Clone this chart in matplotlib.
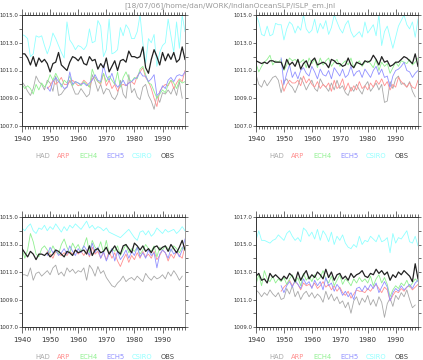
import matplotlib
matplotlib.use('Agg')
import matplotlib.pyplot as plt
import numpy as np
from matplotlib.ticker import MultipleLocator, FormatStrFormatter

title = '[18/07/06]/home/dan/WORK/IndianOceanSLP/ISLP_em.jnl'
years = np.arange(1940, 1999)
names = ['HAD', 'ARP', 'ECH4', 'ECH5', 'CSIRO', 'OBS']
colors = ['#a8a8a8', '#ff9090', '#90f090', '#9090ff', '#90ffff', '#222222']
# ARP and ECH5 start in 1949, HAD ends in 1997

# ---- panel 1 (top left)
had1 = [1010.2, 1009.9, 1009.5, 1009.2, 1009.7, 1010.6, 1010.2, 1010.0, 1009.6, 1010.3,
        1010.1, 1009.5, 1010.6, 1009.2, 1009.3, 1009.6, 1009.8, 1010.3, 1009.8, 1009.3,
        1009.3, 1009.7, 1009.4, 1009.1, 1009.3, 1010.7, 1010.2, 1009.5, 1010.0, 1009.3,
        1009.7, 1009.6, 1009.1, 1008.9, 1009.3, 1010.3, 1009.3, 1009.0, 1010.7, 1009.4,
        1009.7, 1009.1, 1008.9, 1009.8, 1010.0, 1009.2, 1008.8, 1008.2, 1009.2, 1008.7,
        1009.4, 1009.3, 1009.6, 1009.3, 1009.8, 1009.2, 1010.2, 1009.0]
arp1 = [1009.7, 1009.9, 1010.3, 1010.0, 1010.2, 1010.5, 1010.0, 1010.0, 1010.2, 1010.3,
        1010.1, 1009.9, 1010.0, 1010.3, 1010.1, 1009.8, 1010.4, 1010.5, 1010.2, 1010.0,
        1010.8, 1009.9, 1010.3, 1009.7, 1010.0, 1009.5, 1009.9, 1010.0, 1009.9, 1010.1,
        1010.2, 1010.0, 1010.6, 1010.9, 1011.2, 1010.5, 1010.2, 1009.7, 1009.0, 1008.4,
        1009.5, 1009.8, 1010.0, 1009.9, 1010.3, 1009.7, 1010.1, 1010.4, 1010.2, 1011.0]
ech41 = [1010.0, 1009.7, 1009.9, 1009.7, 1009.3, 1010.0, 1009.6, 1010.1, 1009.8, 1010.1,
         1010.7, 1010.3, 1010.8, 1010.4, 1009.8, 1010.3, 1010.1, 1010.6, 1009.9, 1010.2,
         1010.1, 1009.9, 1010.2, 1010.0, 1009.8, 1011.1, 1010.5, 1010.2, 1010.1, 1010.8,
         1010.2, 1010.6, 1010.3, 1010.0, 1010.9, 1009.8, 1010.5, 1010.9, 1010.4, 1010.2,
         1010.5, 1010.4, 1011.1, 1011.3, 1010.7, 1010.1, 1010.0, 1009.5, 1009.0, 1009.3,
         1009.6, 1009.4, 1010.0, 1010.3, 1010.1, 1009.7, 1010.3, 1010.1, 1010.2]
ech51 = [1009.8, 1009.5, 1010.2, 1010.5, 1010.2, 1010.0, 1009.7, 1009.8, 1010.9, 1010.0,
         1010.2, 1010.1, 1010.0, 1010.1, 1009.9, 1010.1, 1010.3, 1010.7, 1010.3, 1010.2,
         1011.4, 1010.6, 1010.3, 1010.8, 1010.1, 1009.8, 1010.0, 1010.3, 1009.9, 1010.1,
         1010.2, 1010.4, 1010.5, 1010.9, 1010.6, 1010.6, 1010.2, 1010.4, 1010.7, 1009.2,
         1009.4, 1009.9, 1009.7, 1010.3, 1010.5, 1010.2, 1010.6, 1010.7, 1010.6, 1010.9]
csiro1 = [1013.6, 1013.5, 1013.3, 1012.0, 1012.2, 1013.5, 1013.4, 1013.5, 1012.8, 1012.2,
          1012.8, 1013.7, 1013.3, 1012.8, 1012.3, 1011.9, 1014.5, 1013.2, 1012.9, 1012.5,
          1012.8, 1012.7, 1012.5, 1012.8, 1014.0, 1013.0, 1013.1, 1014.6, 1014.2, 1012.0,
          1012.5, 1014.7, 1012.2, 1012.3, 1012.5, 1014.1, 1013.5, 1014.3, 1014.0, 1013.3,
          1013.3, 1013.8, 1015.0, 1013.0, 1011.5, 1013.3, 1013.0, 1013.6, 1011.3, 1012.3,
          1012.8, 1013.0, 1014.7, 1013.5, 1012.3, 1014.5, 1012.6, 1015.0, 1013.8]
obs1 = [1012.2, 1012.2, 1011.9, 1011.4, 1012.0, 1011.3, 1011.9, 1011.6, 1011.8, 1011.5,
        1010.9, 1011.5, 1011.6, 1012.3, 1011.4, 1011.2, 1011.0, 1011.6, 1012.0, 1011.9,
        1011.7, 1012.0, 1011.5, 1011.4, 1012.0, 1011.7, 1011.8, 1011.1, 1011.5, 1011.2,
        1011.9, 1010.9, 1011.3, 1011.7, 1011.0, 1011.7, 1011.8, 1011.6, 1012.4, 1012.0,
        1012.0, 1011.9, 1012.0, 1012.7, 1011.2, 1010.8, 1011.8, 1012.5, 1012.0, 1011.4,
        1012.3, 1011.7, 1012.2, 1011.8, 1012.3, 1011.6, 1011.8, 1012.7, 1011.8]

# ---- panel 2 (top right)
had2 = [1010.7, 1010.0, 1009.8, 1010.3, 1009.9, 1010.2, 1010.5, 1010.6, 1010.3, 1009.4,
        1010.2, 1010.4, 1010.0, 1009.8, 1009.4, 1009.9, 1010.5, 1010.1, 1009.6, 1010.0,
        1010.3, 1009.7, 1009.5, 1010.4, 1010.0, 1009.8, 1009.5, 1010.1, 1009.6, 1010.3,
        1009.7, 1009.9, 1009.4, 1009.2, 1009.8, 1009.5, 1010.0, 1009.6, 1009.3, 1009.9,
        1010.2, 1009.5, 1009.8, 1010.1, 1009.6, 1010.0, 1008.7, 1008.8, 1010.2, 1009.7,
        1010.4, 1010.6, 1010.0, 1010.1, 1009.8, 1010.2, 1009.5, 1009.1]
arp2 = [1010.3, 1009.5, 1010.0, 1010.3, 1010.1, 1010.1, 1010.3, 1009.9, 1010.6, 1010.1,
        1010.4, 1010.0, 1009.8, 1010.2, 1009.7, 1010.0, 1009.8, 1010.1, 1009.5, 1010.3,
        1009.7, 1009.9, 1010.4, 1009.6, 1010.1, 1009.5, 1009.9, 1009.6, 1010.2, 1009.7,
        1009.9, 1009.6, 1010.1, 1009.8, 1010.3, 1010.0, 1010.4, 1009.9, 1010.2, 1009.6,
        1010.0, 1009.8, 1010.5, 1010.2, 1010.0, 1009.8, 1010.1, 1009.8, 1009.7, 1010.3]
ech42 = [1011.5, 1010.9, 1011.3, 1011.6, 1011.8, 1012.1, 1011.4, 1011.7, 1011.6, 1011.8,
         1011.0, 1011.4, 1011.9, 1011.7, 1011.8, 1011.6, 1011.6, 1011.8, 1011.2, 1011.9,
         1011.5, 1011.8, 1011.2, 1011.9, 1011.4, 1011.7, 1011.9, 1011.3, 1011.6, 1011.8,
         1011.3, 1011.5, 1011.7, 1011.4, 1011.9, 1011.2, 1011.5, 1011.7, 1011.3, 1011.6,
         1011.7, 1011.5, 1011.2, 1011.8, 1011.0, 1011.6, 1011.3, 1011.5, 1010.8, 1011.2,
         1011.6, 1011.3, 1011.7, 1011.6, 1011.5, 1011.8, 1011.4, 1011.6, 1011.9]
ech52 = [1011.9, 1010.0, 1010.8, 1011.4, 1010.5, 1010.9, 1010.4, 1011.0, 1011.2, 1010.8,
         1010.6, 1011.3, 1010.9, 1010.4, 1011.1, 1010.7, 1010.6, 1011.0, 1010.4, 1011.2,
         1010.9, 1010.6, 1011.1, 1010.5, 1010.7, 1011.3, 1010.6, 1010.9, 1011.0, 1010.5,
         1011.1, 1010.8, 1010.5, 1011.0, 1011.3, 1010.7, 1011.1, 1010.5, 1010.6, 1009.8,
         1010.6, 1011.0, 1011.1, 1011.3, 1011.6, 1011.0, 1010.9, 1010.5, 1010.8, 1011.0]
csiro2 = [1015.0, 1014.5, 1013.6, 1013.5, 1014.2, 1013.5, 1013.6, 1014.4, 1014.3, 1014.3,
          1013.2, 1014.0, 1014.5, 1014.3, 1013.7, 1014.2, 1013.9, 1015.0, 1014.0, 1013.7,
          1013.9, 1014.7, 1013.7, 1014.4, 1014.0, 1014.6, 1013.6, 1014.1, 1015.0, 1014.5,
          1014.0, 1013.7, 1014.3, 1014.6, 1013.8, 1013.4, 1013.6, 1013.8, 1013.4, 1014.5,
          1013.7, 1014.0, 1014.3, 1013.5, 1015.0, 1012.8, 1013.8, 1014.2, 1013.4, 1012.6,
          1013.4, 1014.2, 1014.6, 1015.0, 1014.3, 1014.0, 1014.5, 1013.4, 1014.7]
obs2 = [1011.7, 1011.6, 1011.5, 1011.6, 1011.5, 1011.7, 1011.7, 1011.6, 1011.6, 1011.6,
        1011.1, 1011.8, 1011.4, 1011.6, 1011.3, 1011.8, 1011.1, 1011.5, 1011.7, 1011.2,
        1011.7, 1011.9, 1011.4, 1011.5, 1011.6, 1011.5, 1011.2, 1011.8, 1011.7, 1011.5,
        1011.5, 1011.3, 1011.4, 1011.9, 1011.4, 1011.2, 1011.6, 1011.5, 1011.4, 1011.7,
        1011.6, 1011.7, 1012.1, 1011.8, 1011.4, 1012.0, 1011.6, 1011.7, 1011.3, 1011.4,
        1011.6, 1011.6, 1011.8, 1012.0, 1011.9, 1011.7, 1011.5, 1012.2, 1011.3]

# ---- panel 3 (bottom left)
had3 = [1010.8, 1010.8, 1010.7, 1011.3, 1010.4, 1010.9, 1011.0, 1010.7, 1010.9, 1011.1,
        1010.8, 1011.3, 1011.5, 1010.8, 1011.0, 1010.7, 1011.3, 1011.0, 1011.2, 1010.9,
        1011.1, 1011.0, 1011.3, 1010.4, 1011.5, 1011.2, 1010.7, 1011.4, 1010.9, 1011.1,
        1010.6, 1010.3, 1010.0, 1009.9, 1010.2, 1010.4, 1010.7, 1010.3, 1010.5, 1010.6,
        1010.4, 1010.7, 1010.5, 1010.3, 1010.9, 1010.6, 1010.4, 1010.7, 1010.5, 1010.6,
        1010.8, 1010.5, 1011.0, 1010.7, 1011.1, 1010.8, 1010.4, 1010.7]
arp3 = [1012.5, 1012.3, 1012.0, 1012.5, 1012.3, 1012.2, 1012.4, 1012.2, 1012.5, 1012.3,
        1012.6, 1012.3, 1012.5, 1012.2, 1012.6, 1012.1, 1012.8, 1012.3, 1012.5, 1012.0,
        1012.4, 1011.9, 1012.5, 1012.0, 1012.4, 1011.8, 1011.4, 1011.9, 1012.3, 1011.7,
        1012.2, 1011.9, 1012.4, 1012.0, 1012.5, 1012.1, 1012.3, 1012.0, 1012.5, 1011.9,
        1012.2, 1012.6, 1012.4, 1011.8, 1012.3, 1012.0, 1012.5, 1012.2, 1012.0, 1012.9]
ech43 = [1012.7, 1012.0, 1012.6, 1013.8, 1013.2, 1012.3, 1012.1, 1012.7, 1012.9, 1012.6,
         1012.4, 1012.9, 1012.5, 1012.3, 1013.0, 1013.4, 1012.8, 1012.4, 1013.1, 1012.7,
         1013.0, 1012.5, 1012.9, 1013.5, 1012.4, 1013.3, 1012.8, 1012.6, 1013.2, 1012.4,
         1013.3, 1012.3, 1012.7, 1012.5, 1012.9, 1012.2, 1012.6, 1013.0, 1012.4, 1012.7,
         1012.5, 1012.8, 1012.3, 1012.6, 1013.0, 1012.7, 1012.5, 1012.9, 1012.1, 1012.8,
         1012.6, 1012.9, 1012.7, 1012.5, 1012.9, 1012.7, 1012.4, 1012.8, 1012.6]
ech53 = [1012.2, 1012.8, 1012.4, 1012.6, 1012.2, 1012.4, 1012.7, 1012.3, 1012.9, 1012.5,
         1012.2, 1012.7, 1012.4, 1012.9, 1012.6, 1012.2, 1013.1, 1012.4, 1012.8, 1012.0,
         1012.5, 1011.8, 1012.3, 1012.7, 1011.8, 1012.5, 1011.9, 1012.2, 1012.6, 1012.0,
         1012.5, 1012.2, 1012.8, 1012.1, 1012.4, 1012.0, 1012.6, 1012.2, 1012.4, 1011.3,
         1012.3, 1012.6, 1012.4, 1012.0, 1012.7, 1012.3, 1012.5, 1012.1, 1012.6, 1013.4]
csiro3 = [1014.2, 1014.0, 1014.3, 1014.5, 1014.0, 1013.8, 1014.2, 1014.1, 1014.4, 1014.0,
          1014.3, 1014.1, 1014.5, 1014.2, 1013.9, 1014.3, 1014.0, 1014.4, 1014.2, 1014.5,
          1014.3, 1014.1, 1014.4, 1014.7, 1014.2, 1014.4, 1014.1, 1014.3, 1014.2, 1014.0,
          1014.2, 1013.9, 1013.8, 1013.7, 1013.6, 1013.5, 1013.7, 1013.9, 1014.1, 1013.8,
          1013.5, 1013.3, 1013.9, 1014.0, 1013.7, 1014.0, 1013.6, 1013.8, 1014.2, 1014.0,
          1013.8, 1014.1, 1013.9, 1014.0, 1014.1, 1013.8, 1014.0, 1014.3, 1014.0]
obs3 = [1012.7, 1012.4, 1012.1, 1012.5, 1012.3, 1011.9, 1012.3, 1012.3, 1012.2, 1012.4,
        1012.1, 1012.3, 1012.6, 1012.5, 1012.3, 1012.1, 1012.5, 1012.4, 1012.2, 1012.6,
        1012.4, 1012.5, 1012.6, 1012.3, 1012.9, 1012.2, 1012.6, 1012.7, 1012.4, 1012.5,
        1012.8, 1012.3, 1012.6, 1012.9, 1012.5, 1012.3, 1012.9, 1013.0, 1012.7, 1012.4,
        1013.1, 1012.9, 1012.6, 1012.9, 1012.5, 1012.7, 1012.4, 1012.8, 1012.9, 1012.6,
        1012.8, 1012.9, 1012.5, 1013.0, 1012.7, 1012.4, 1012.8, 1013.3, 1012.6]

# ---- panel 4 (bottom right)
had4 = [1011.7, 1011.5, 1011.2, 1011.5, 1011.3, 1011.7, 1011.4, 1011.2, 1011.5, 1011.0,
        1011.1, 1011.8, 1011.4, 1012.0, 1011.2, 1011.6, 1011.0, 1011.4, 1011.6, 1011.2,
        1011.5, 1011.1, 1011.4, 1011.2, 1010.8, 1011.6, 1011.0, 1011.4, 1010.9, 1011.2,
        1010.7, 1010.9, 1010.4, 1010.8, 1010.0, 1010.9, 1011.2, 1010.6, 1011.1, 1010.8,
        1011.3, 1010.6, 1011.0, 1010.5, 1011.2, 1010.8, 1009.7, 1010.7, 1011.1, 1010.5,
        1011.3, 1011.0, 1011.5, 1011.2, 1011.7, 1011.0, 1010.4, 1010.6]
arp4 = [1011.6, 1011.9, 1012.1, 1012.4, 1012.0, 1012.3, 1012.1, 1011.7, 1012.2, 1012.0,
        1012.1, 1011.9, 1012.2, 1011.8, 1012.0, 1012.3, 1011.9, 1012.1, 1011.7, 1012.0,
        1011.6, 1011.9, 1011.5, 1011.3, 1011.6, 1011.1, 1011.4, 1011.7, 1011.6, 1011.6,
        1011.5, 1011.8, 1011.6, 1011.9, 1012.1, 1011.8, 1011.5, 1011.9, 1011.7, 1010.9,
        1011.3, 1011.6, 1011.5, 1011.8, 1011.6, 1011.9, 1012.0, 1011.7, 1011.9, 1012.1]
ech44 = [1012.1, 1012.8, 1012.0, 1013.1, 1012.5, 1012.3, 1012.7, 1012.2, 1012.5, 1012.3,
         1012.6, 1012.1, 1012.5, 1012.8, 1012.2, 1012.6, 1012.0, 1012.9, 1012.4, 1012.7,
         1012.3, 1012.8, 1012.4, 1012.6, 1013.1, 1012.5, 1012.2, 1012.7, 1012.0, 1012.4,
         1012.8, 1012.1, 1012.5, 1012.3, 1012.0, 1012.5, 1012.2, 1012.6, 1012.3, 1012.5,
         1012.2, 1012.7, 1012.0, 1012.5, 1012.8, 1012.2, 1012.6, 1012.1, 1011.2, 1011.7,
         1012.0, 1011.8, 1012.2, 1012.0, 1012.4, 1011.9, 1012.2, 1012.5, 1012.3]
ech54 = [1012.0, 1011.5, 1012.0, 1012.3, 1011.9, 1012.4, 1012.1, 1011.8, 1012.5, 1012.1,
         1012.3, 1011.8, 1012.4, 1012.0, 1012.3, 1011.7, 1012.6, 1012.0, 1012.2, 1011.6,
         1012.1, 1011.8, 1011.3, 1011.6, 1011.2, 1011.5, 1011.0, 1011.8, 1011.9, 1011.6,
         1012.0, 1011.7, 1012.1, 1011.8, 1012.2, 1011.5, 1011.9, 1012.3, 1011.9, 1010.9,
         1011.5, 1011.8, 1011.6, 1012.0, 1011.7, 1011.9, 1012.1, 1011.8, 1012.2, 1012.4]
csiro4 = [1015.3, 1016.0, 1015.3, 1015.3, 1015.2, 1015.1, 1015.3, 1015.4, 1015.7, 1015.5,
          1015.3, 1015.8, 1016.0, 1015.6, 1015.3, 1015.5, 1015.2, 1016.2, 1016.0, 1015.6,
          1015.9, 1015.4, 1016.1, 1015.3, 1016.0, 1015.7, 1015.2, 1015.9, 1015.0, 1015.6,
          1015.3, 1015.7, 1015.1, 1014.8, 1014.7, 1015.0, 1014.8, 1015.6, 1015.0, 1015.3,
          1015.2, 1015.6, 1015.4, 1015.2, 1015.7, 1015.2, 1015.3, 1015.5, 1014.4, 1015.8,
          1015.1, 1015.5, 1015.4, 1015.7, 1016.0, 1015.2, 1015.1, 1015.6, 1014.9]
obs4 = [1012.7, 1012.9, 1012.4, 1012.5, 1012.2, 1012.9, 1012.6, 1012.8, 1012.6, 1012.4,
        1012.7, 1012.5, 1012.9, 1012.7, 1012.3, 1013.0, 1012.4, 1012.8, 1013.1, 1012.5,
        1012.8, 1012.6, 1013.0, 1012.8, 1012.5, 1013.2, 1012.6, 1013.0, 1012.4, 1012.8,
        1012.9, 1012.5, 1012.7, 1012.4, 1012.9, 1012.6, 1012.8, 1012.9, 1013.1, 1012.7,
        1012.6, 1012.9, 1012.8, 1013.2, 1012.9, 1013.1, 1012.8, 1013.0, 1012.4, 1012.8,
        1012.6, 1013.0, 1012.8, 1013.1, 1012.9, 1012.7, 1012.3, 1013.6, 1012.5]

panels = [
    [had1, arp1, ech41, ech51, csiro1, obs1],
    [had2, arp2, ech42, ech52, csiro2, obs2],
    [had3, arp3, ech43, ech53, csiro3, obs3],
    [had4, arp4, ech44, ech54, csiro4, obs4],
]
ylims = [(1007, 1015), (1007, 1015), (1007, 1015), (1009, 1017)]

W, H = 423, 360
fig = plt.figure(figsize=(W / 100, H / 100), dpi=100)
fig.patch.set_facecolor('white')

# axes boxes in pixels: left, top, right, bottom
boxes = [(22, 15, 185, 126), (256, 15, 418, 126),
         (22, 217, 185, 327), (256, 217, 418, 327)]
legend_dx = [21, 42, 66, 93, 120, 146]  # legend label centres from axes left

fig.text(230 / W, 1 - 6 / H, title, ha='center', va='center', fontsize=5.3, color='#9a9a9a')

for i, (series, ylim, box) in enumerate(zip(panels, ylims, boxes)):
    l, t, r, b = box
    ax = fig.add_axes([l / W, 1 - b / H, (r - l) / W, (b - t) / H])
    for j, vals in enumerate(series):
        vals = np.array(vals)
        if len(vals) == len(years):
            x = years
        elif len(vals) == len(years) - 1:
            x = years[:-1]
        else:
            x = years[-len(vals):]
        lw = 0.9 if names[j] == 'OBS' else 0.6
        order = 10 if names[j] == 'OBS' else 2
        ax.plot(x, vals, color=colors[j], lw=lw, zorder=order)

    ax.set_xlim(1940, 1998)
    ax.set_ylim(*ylim)
    ax.xaxis.set_major_locator(MultipleLocator(10))
    ax.xaxis.set_minor_locator(MultipleLocator(1))
    ax.yaxis.set_major_locator(MultipleLocator(2, offset=1))
    ax.yaxis.set_minor_locator(MultipleLocator(1))
    ax.yaxis.set_major_formatter(FormatStrFormatter('%.1f'))
    ax.tick_params(axis='both', which='both', direction='out', color='#333333',
                   top=True, right=True, width=0.5)
    ax.tick_params(axis='x', which='major', length=4, labelsize=5.1, pad=3,
                   labelcolor='#333333')
    ax.tick_params(axis='x', which='minor', length=2)
    ax.tick_params(axis='y', which='both', length=2, labelsize=3.9, pad=0.6,
                   labelcolor='#333333')
    for side in ['left', 'bottom', 'top']:
        ax.spines[side].set_color('#333333')
        ax.spines[side].set_linewidth(0.7)
    ax.spines['right'].set_color('#999999')
    ax.spines['right'].set_linewidth(0.7)

    ly = b + 30
    for j, name in enumerate(names):
        c = '#444444' if name == 'OBS' else colors[j]
        fig.text((l + legend_dx[j]) / W, 1 - ly / H, name, ha='center', va='center',
                 fontsize=4.9, color=c)

fig.savefig('out.png', dpi=100, facecolor='white')
